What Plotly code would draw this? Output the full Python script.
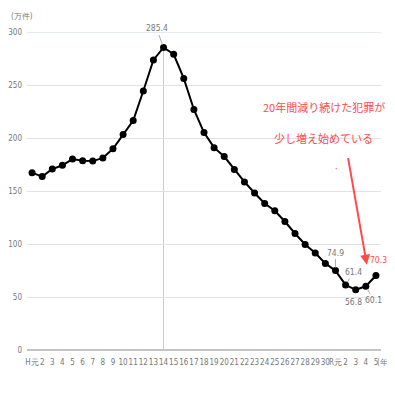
import plotly.graph_objects as go

year_labels = ["H元"] + [str(i) for i in range(2, 31)] + ["R元", "2", "3", "4", "5"]
crimes = [167.3, 163.6, 170.8, 174.2, 180.1, 178.5, 178.2, 181.2, 189.9, 203.3,
          216.5, 244.3, 273.6, 285.4, 279.0, 256.2, 226.9, 205.1, 190.9, 182.5,
          170.4, 158.6, 148.1, 138.2, 131.4, 121.2, 109.9, 99.6, 91.5, 81.7,
          74.9, 61.4, 56.8, 60.1, 70.3]
y_ticks = [0, 50, 100, 150, 200, 250, 300]

xs = list(range(len(crimes)))
narrow = "DejaVu Sans Condensed, sans-serif"
gray = "#777777"
red = "#ff4a4a"
cjk = "Noto Sans CJK JP, sans-serif"

fig = go.Figure()
fig.add_trace(go.Scatter(
    x=xs, y=crimes, mode="lines+markers",
    line=dict(color="black", width=2),
    marker=dict(color="black", size=7, symbol="circle"),
    hoverinfo="skip", showlegend=False))

peak_i = crimes.index(max(crimes))
fig.add_shape(type="line", x0=peak_i, x1=peak_i, y0=0, y1=crimes[peak_i],
              line=dict(color="#cccccc", width=1), layer="below")
fig.add_shape(type="line", xref="paper", x0=0, x1=1, y0=300, y1=300,
              line=dict(color="#c9d2e3", width=1), layer="below")

def lab(i, ax, ay, arrow=True, color=gray, xshift=0, yshift=0):
    fig.add_annotation(x=i, y=crimes[i], text=f"{crimes[i]}", showarrow=arrow,
                       ax=ax, ay=ay, arrowhead=0, arrowwidth=1,
                       arrowcolor="#aaaaaa", standoff=3,
                       xanchor="center", yanchor="middle",
                       xshift=xshift, yshift=yshift,
                       font=dict(family=narrow, size=8.5, color=color))

lab(peak_i, -7, -19)
lab(30, 0, -18)
lab(31, 8, -13)
lab(32, 0, 0, arrow=False, xshift=-2, yshift=-12)
lab(33, 8, 14)
lab(34, 0, 0, arrow=False, color=red, xshift=3, yshift=15)

# plot area in page pixels: x 27..381, y 32..350
def px(xp):
    return (xp - 27) / 354

def py(yp):
    return (350 - yp) / 318

def note(xp, yp, text, font):
    fig.add_annotation(xref="paper", yref="paper", x=px(xp), y=py(yp),
                       xanchor="center", yanchor="middle",
                       text=text, showarrow=False, font=font)

note(324, 107, "20年間減り続けた犯罪が", dict(family=cjk, size=11, color=red))
note(323, 138, "少し増え始めている", dict(family=cjk, size=11, color=red))
note(336, 168, "·", dict(size=10, color=red))
note(22, 16, "(万件)", dict(family=narrow, size=8, color=gray))
note(384, 362, "(年)", dict(family=narrow, size=8, color=gray))

fig.add_annotation(x=33.1, y=80.5, text="", showarrow=True, ax=-19, ay=-108,
                   arrowhead=2, arrowsize=1, arrowwidth=2, arrowcolor=red)

# page body has an 8px margin, so the figure sits at (8, 8)
fig.update_layout(
    width=387, height=379,
    margin=dict(l=19, r=14, t=24, b=37, autoexpand=False),
    paper_bgcolor="white", plot_bgcolor="white",
    xaxis=dict(range=[-0.5, 34.5], tickmode="array", tickvals=xs, ticktext=year_labels,
               showgrid=False, zeroline=False, showline=False, ticks="",
               automargin=False, ticklabelstandoff=6,
               tickfont=dict(family=narrow, size=8, color=gray), tickangle=0),
    yaxis=dict(range=[0, 300], tickmode="array", tickvals=y_ticks,
               showgrid=True, gridcolor="#e2e2e2", gridwidth=1,
               zeroline=True, zerolinecolor="#c4c4c4", zerolinewidth=2,
               showline=False, ticks="", automargin=False, ticklabelstandoff=4,
               tickfont=dict(family=narrow, size=8, color=gray)),
)

fig.write_html("out.html")
